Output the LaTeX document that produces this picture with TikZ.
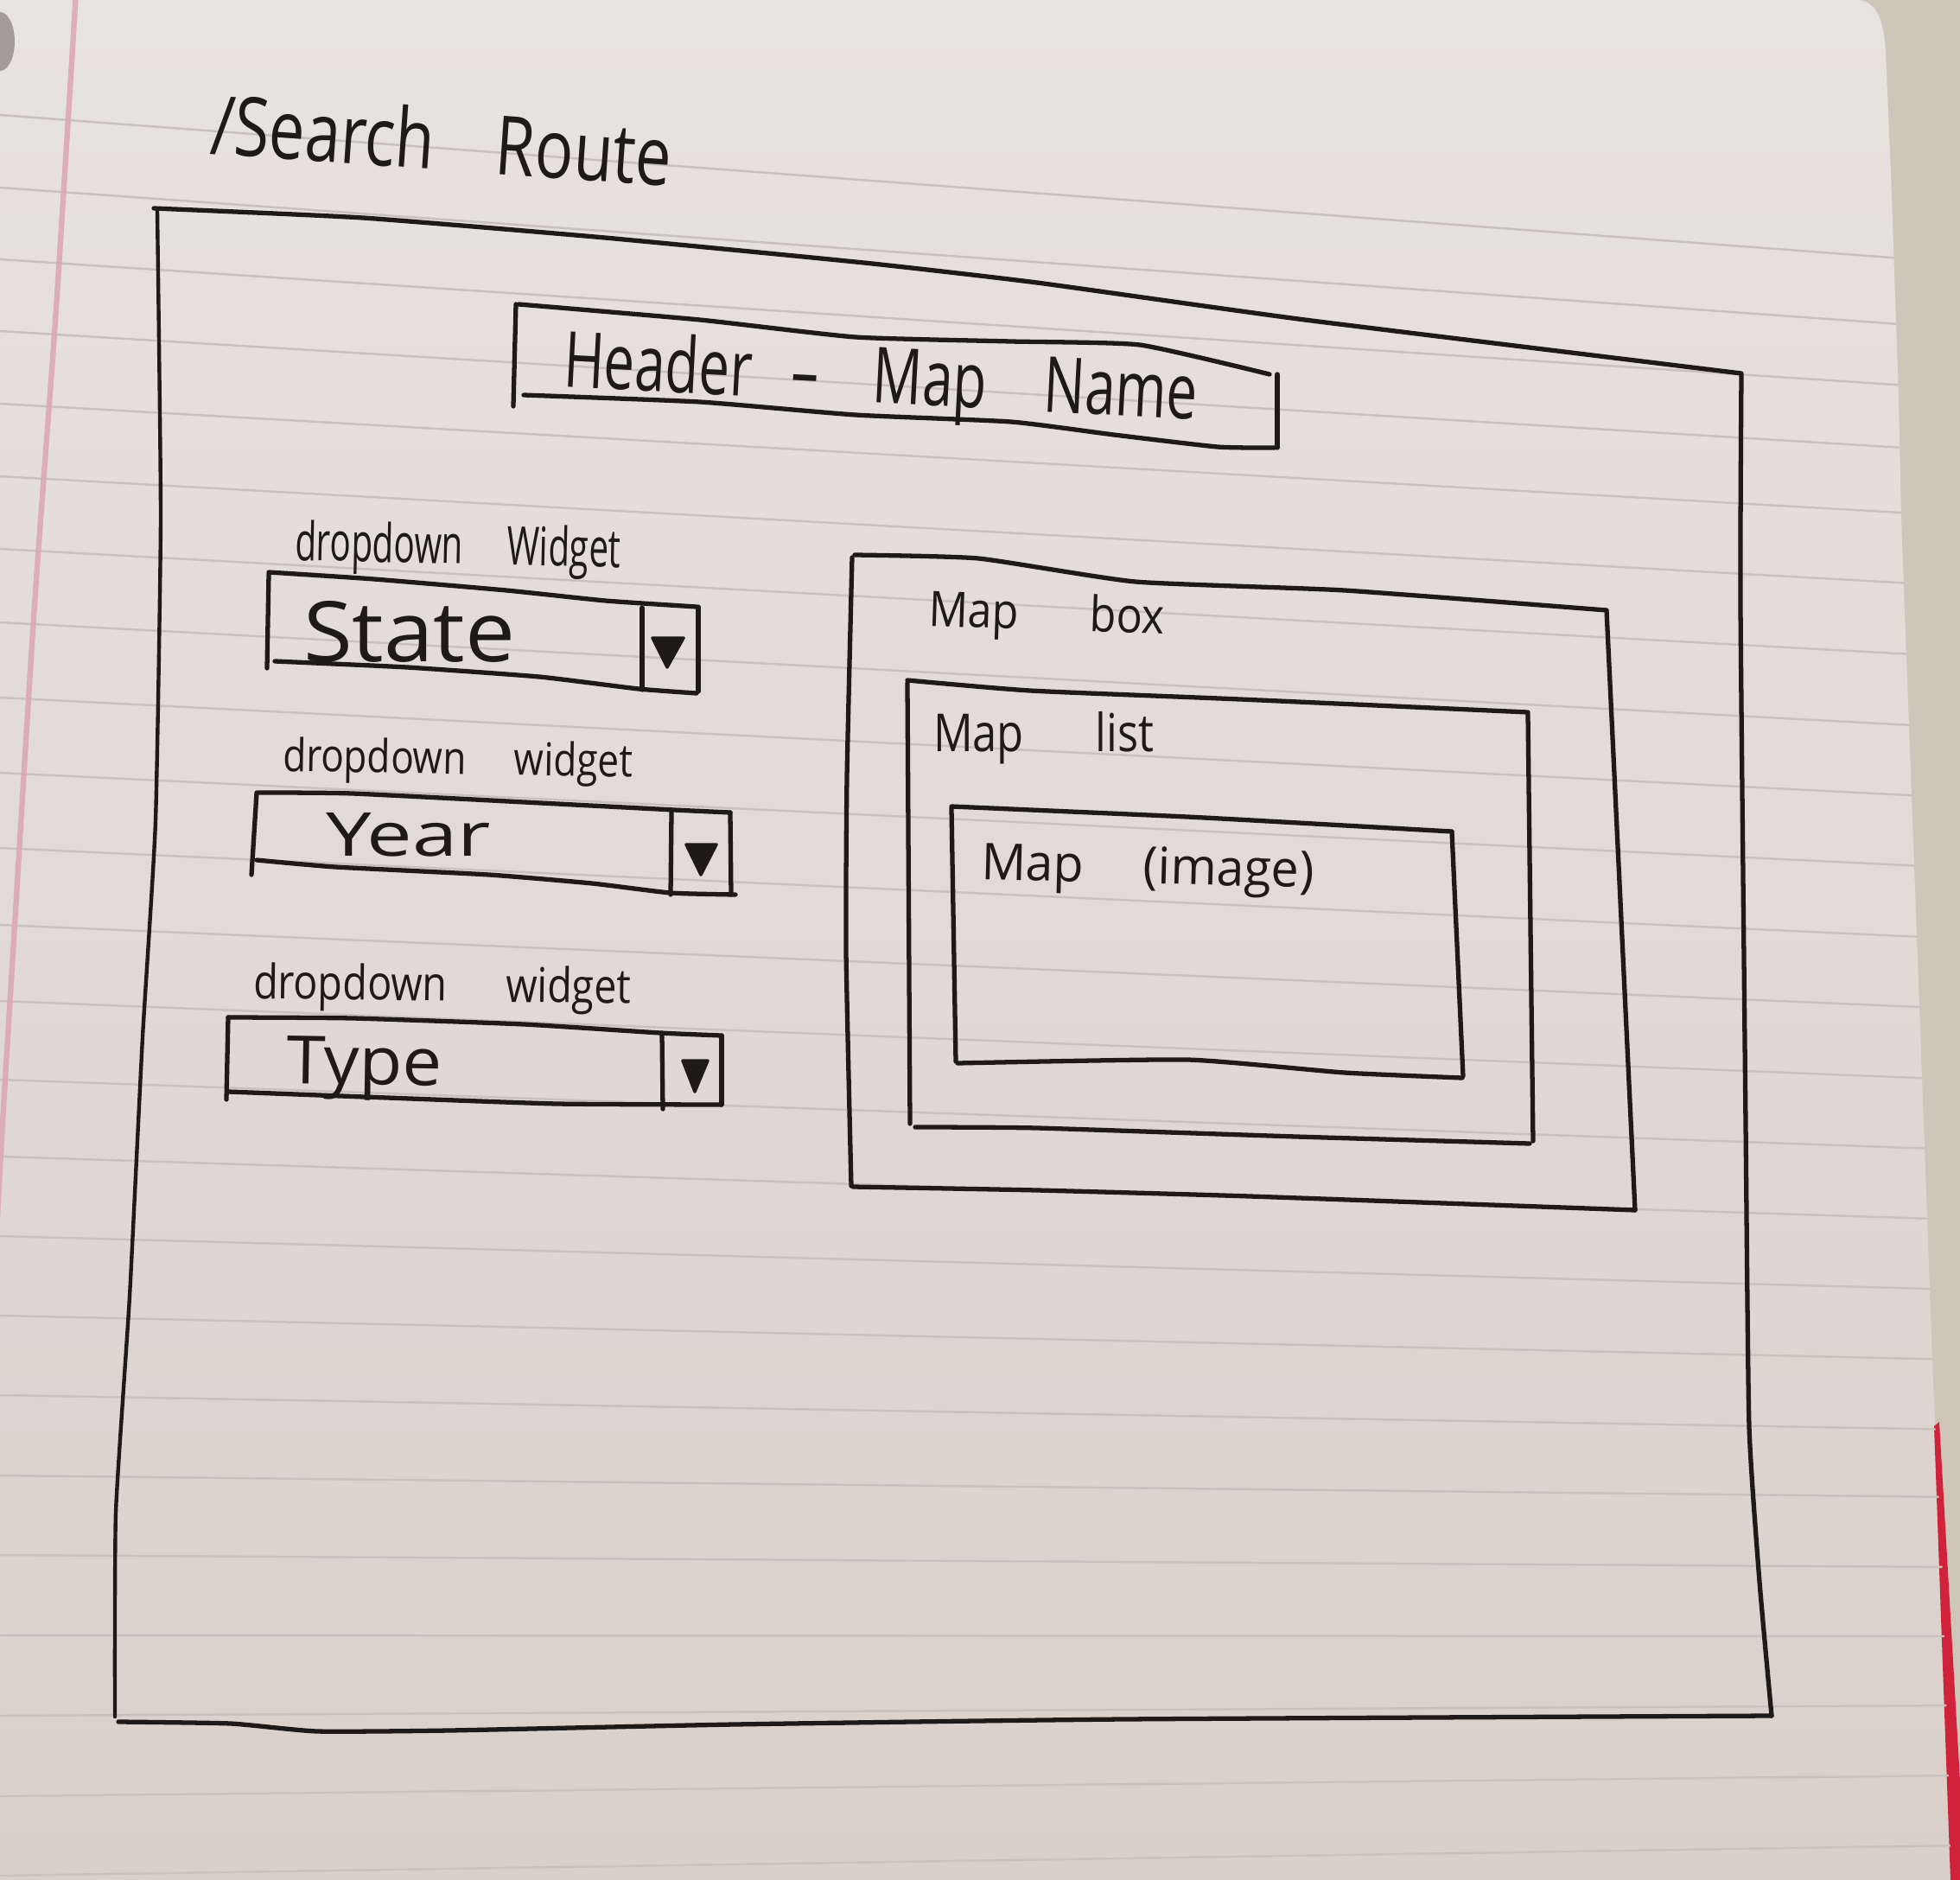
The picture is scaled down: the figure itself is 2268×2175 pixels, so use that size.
\documentclass[tikz,border=0pt]{standalone}
\usepackage{fontspec}
\setmainfont{Open Sans}
\usepackage{graphicx}
\definecolor{inkc}{HTML}{1E1A18}
\definecolor{paperTop}{HTML}{E7E3E0}
\definecolor{paperMid}{HTML}{E2DCD8}
\definecolor{paperBot}{HTML}{DAD0C9}
\definecolor{rulec}{HTML}{C9C1BE}
\definecolor{marginc}{HTML}{DCA6AF}
\definecolor{carpet}{HTML}{CDC6B9}
\definecolor{coverred}{HTML}{D1223C}
\definecolor{holec}{HTML}{A29C98}
% stretch a handwritten label to a given width and height
\newcommand{\inkfit}[3]{\resizebox{#1}{#2}{#3}}
% outline of the sheet of paper
\newcommand{\sheetpath}{(0,0) -- (2148,0) .. controls (2172,0) and (2180,25) .. (2182,60)
  -- (2188,200) -- (2197,459) -- (2200,600) -- (2215,1000) -- (2237,1600)
  -- (2248,1820) -- (2258,2175) -- (0,2175) -- cycle}
\begin{document}
\begin{tikzpicture}[x=0.01cm,y=-0.01cm,
  ink/.style={draw=inkc, line width=1.5pt, line cap=round, line join=round},
  rulestroke/.style={draw=rulec, line width=0.7pt},
  hand/.style={inner sep=0pt, outer sep=0pt, text=inkc, anchor=base west},
  arrowfill/.style={fill=inkc, draw=inkc, line width=1pt, line join=round},
  edge/.style={smooth, tension=0.3}]
\useasboundingbox (0,0) rectangle (2268,2175);

% desk surface behind the sheet
\fill[carpet] (0,0) rectangle (2268,2175);

% the sheet of ruled paper
\shade[top color=paperTop, middle color=paperMid, bottom color=paperBot] \sheetpath;

% red cover edge peeking out at the lower right
\fill[coverred] (2238,1650) -- (2244,1645) -- (2268,2060) -- (2268,2175) -- (2257,2175) -- cycle;

\begin{scope}
  \clip \sheetpath;
  % ruled lines
  \foreach \l/\r in {133/304,217/380,300/450,383/522,467/597,551/678,635/760,720/842,
    807/923,894/1004,981/1086,1070/1167,1158/1249,1249/1330,1338/1411,1430/1492,
    1522/1573,1614/1654,1707/1732,1799/1813,1892/1893,1985/1973,2078/2054,2170/2135}
    \draw[rulestroke] (0,\l) -- (2268,\r);
  % margin line
  \draw[marginc, line width=1.8pt, opacity=0.85] plot[smooth] coordinates
    {(88,-10) (75,200) (62,400) (40,700) (17,1070) (3,1300) (-8,1500)};
  % punched hole
  \fill[holec] (0,48) ellipse [x radius=17, y radius=34];
\end{scope}

% ---- title ----
\node[hand, rotate=-4] (title) at (242,178)
  {\inkfit{5.34cm}{0.72cm}{/Search\hspace{0.96em}Route}};

% ---- page frame ----
\draw[ink] plot[edge] coordinates {(178,241) (420,252) (700,275) (1000,304)
  (1200,327) (1510,370) (2015,432)};
\draw[ink] plot[edge] coordinates {(2015,434) (2014,700) (2020,1300) (2024,1650)
  (2036,1830) (2050,1985)};
\draw[ink] plot[edge] coordinates {(137,1992) (267,1994) (367,2003) (520,2002)
  (850,1995) (1300,1989) (2050,1985)};
\draw[ink, line width=1.25pt] plot[edge] coordinates {(182,244) (186,600)
  (180,950) (165,1200) (150,1500) (134,1750) (133,1986)};

% ---- header ----
\draw[ink] plot[edge] coordinates {(600,352) (810,370) (990,390) (1170,395) (1319,399) (1469,433)};
\draw[ink] (1478,433) -- (1478,518);
\draw[ink] plot[edge] coordinates {(606,457) (810,465) (990,480) (1170,488) (1289,503) (1409,517) (1475,518)};
\draw[ink] (597,352) -- (594,470);
\node[hand, rotate=-3] (header) at (651,447)
  {\inkfit{7.34cm}{0.68cm}{Header\hspace{0.71em}–\hspace{0.99em}Map\hspace{1.04em}Name}};

% ---- dropdown: State ----
\node[hand, rotate=-1.3] (lblstate) at (341,648)
  {\inkfit{3.77cm}{0.47cm}{dropdown\hspace{1.25em}Widget}};
\draw[ink] plot[edge] coordinates {(311,662) (433,670) (586,683) (701,695) (806,702)};
\draw[ink] (808,702) -- (808,800);
\draw[ink] plot[edge] coordinates {(318,765) (471,772) (624,783) (739,797) (806,802)};
\draw[ink] (311,664) -- (309,773);
\draw[ink] (743,703) -- (743,798);
\fill[arrowfill] (755,738) -- (791,738) -- (772,772) -- cycle;
\node[hand] (state) at (351,765) {\inkfit{2.45cm}{0.70cm}{State}};

% ---- dropdown: Year ----
\node[hand, rotate=-1] (lblyear) at (327,892)
  {\inkfit{4.05cm}{0.40cm}{dropdown\hspace{1.26em}widget}};
\draw[ink] plot[edge] coordinates {(299,917) (408,918) (645,930) (780,937) (845,940)};
\draw[ink] (845,940) -- (846,1035);
\draw[ink] plot[edge] coordinates {(297,995) (388,1003) (566,1012) (685,1022) (776,1033) (851,1035)};
\draw[ink] (297,917) -- (291,1012);
\draw[ink] (777,940) -- (776,1035);
\fill[arrowfill] (794,977) -- (829,977) -- (811,1012) -- cycle;
\node[hand] (year) at (377,990) {\inkfit{1.91cm}{0.50cm}{Year}};

% ---- dropdown: Type ----
\node[hand, rotate=-0.8] (lbltype) at (293,1155)
  {\inkfit{4.37cm}{0.42cm}{dropdown\hspace{1.45em}widget}};
\draw[ink] plot[edge] coordinates {(264,1177) (408,1178) (606,1185) (764,1195) (835,1198)};
\draw[ink] (835,1198) -- (835,1278);
\draw[ink] plot[edge] coordinates {(264,1263) (448,1270) (645,1277) (835,1278)};
\draw[ink] (264,1177) -- (262,1272);
\draw[ink] (766,1195) -- (767,1283);
\fill[arrowfill] (790,1227) -- (819,1227) -- (804,1263) -- cycle;
\node[hand, rotate=-1] (type) at (331,1253) {\inkfit{1.80cm}{0.55cm}{Type}};

% ---- map box ----
\draw[ink] plot[edge] coordinates {(989,642) (1132,646) (1314,673) (1556,683) (1859,706)};
\draw[ink] (1859,706) -- (1892,1400);
\draw[ink] plot[edge] coordinates {(987,1373) (1200,1377) (1446,1384) (1892,1400)};
\draw[ink] plot[edge] coordinates {(986,645) (980,900) (979,1100) (985,1372)};
\node[hand, rotate=-2] (mapbox) at (1074,724) {\inkfit{2.73cm}{0.43cm}{Map\hspace{1.64em}box}};

% ---- map list ----
\draw[ink] plot[edge] coordinates {(1050,787) (1192,799) (1435,809) (1768,824)};
\draw[ink] (1768,826) -- (1774,1320);
\draw[ink] plot[edge] coordinates {(1059,1304) (1200,1305) (1500,1315) (1770,1323)};
\draw[ink] (1050,790) -- (1053,1300);
\node[hand] (maplist) at (1080,869) {\inkfit{2.55cm}{0.46cm}{Map\hspace{1.63em}list}};

% ---- map image ----
\draw[ink] plot[edge] coordinates {(1101,933) (1374,945) (1556,955) (1680,962)};
\draw[ink] (1680,962) -- (1693,1245);
\draw[ink] plot[edge] coordinates {(1108,1230) (1374,1226) (1556,1241) (1692,1247)};
\draw[ink] (1101,935) -- (1106,1228);
\node[hand, rotate=-1.5] (mapimage) at (1135,1017)
  {\inkfit{3.85cm}{0.43cm}{Map\hspace{1.2em}(image)}};
\end{tikzpicture}
\end{document}
